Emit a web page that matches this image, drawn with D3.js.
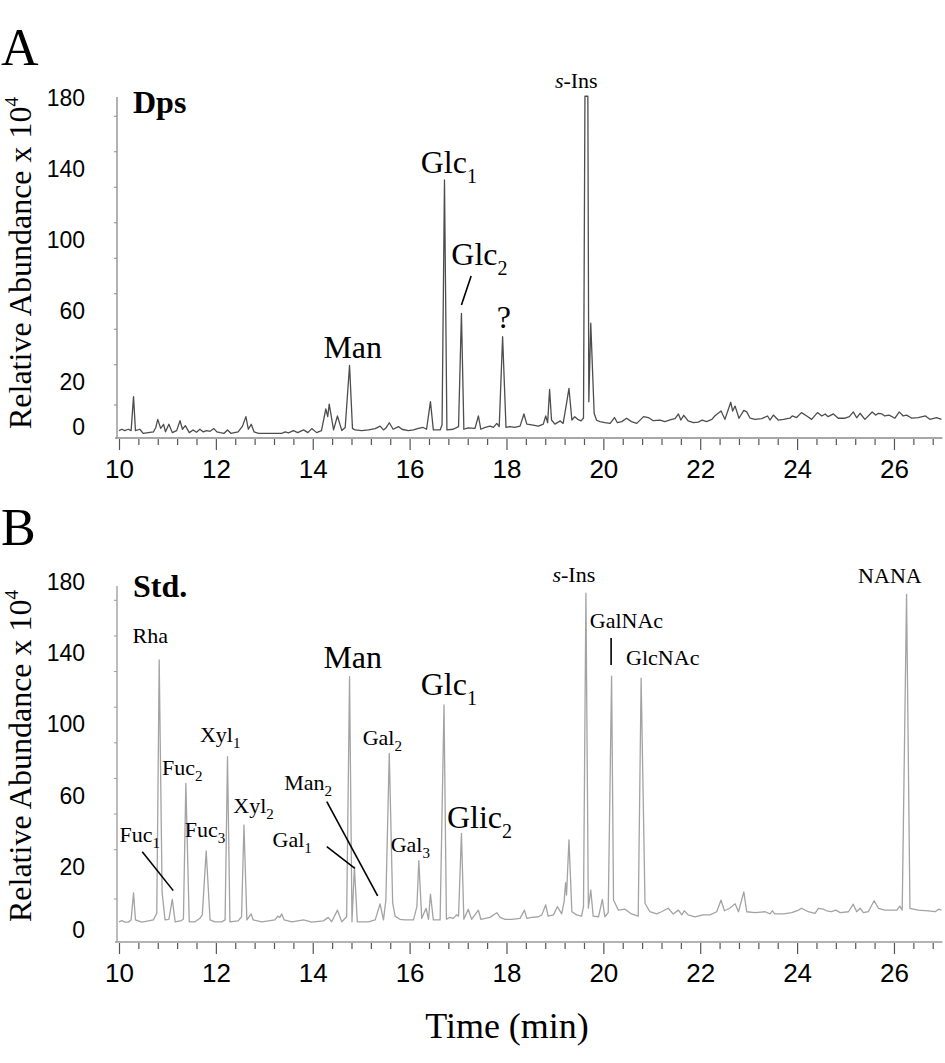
<!DOCTYPE html>
<html>
<head>
<meta charset="utf-8">
<script src="https://cdn.jsdelivr.net/npm/d3@7"></script>
<style>
  html, body { margin: 0; padding: 0; background: #fff; }
  svg { display: block; }
</style>
</head>
<body>
<div id="chart"></div>
<script>
// ---------------- DATA ----------------
const timeDomain = [10, 27];
const xMajorTicks = [10, 12, 14, 16, 18, 20, 22, 24, 26];
const xMinorTicks = [10.4, 10.8, 11.2, 11.6, 12.4, 12.8, 13.2, 13.6, 14.4, 14.8, 15.2, 15.6,
  16.4, 16.8, 17.2, 17.6, 18.4, 18.8, 19.2, 19.6, 20.4, 20.8, 21.2, 21.6, 22.4, 22.8, 23.2, 23.6,
  24.4, 24.8, 25.2, 25.6, 26.4, 26.8];
const yTickLabels = [0, 20, 60, 100, 140, 180];
const yMinorTicks = [10, 30, 50, 70, 90, 110, 130, 150, 170];

// Panel A (Dps) chromatogram: [time (min), relative abundance x 10^4]
const dpsTrace = [
[10.00,-1.6],[10.06,-1.0],[10.12,-1.6],[10.19,-1.0],[10.25,-1.6],[10.30,13.5],[10.34,-1.6],[10.43,-1.0],[10.50,-2.8],[10.71,-2.2],[10.76,-0.2],[10.80,3.4],[10.86,-0.6],[10.92,1.2],[10.96,-2.1],[11.03,1.2],[11.10,-2.5],[11.19,-1.6],[11.26,2.8],[11.31,-1.0],[11.37,0.6],[11.45,-2.5],[11.53,-1.3],[11.60,-2.3],[11.67,-1.0],[11.74,-2.2],[11.81,-1.6],[11.88,-1.9],[11.96,-0.7],[12.02,-2.2],[12.09,-2.5],[12.17,-2.8],[12.24,-1.3],[12.31,-2.8],[12.46,-2.2],[12.55,0.4],[12.62,4.6],[12.67,-1.0],[12.73,1.2],[12.79,-2.2],[12.88,-2.8],[13.36,-2.8],[13.43,-2.2],[13.50,-2.6],[13.60,-1.6],[13.69,-2.5],[13.81,-1.3],[13.90,-2.5],[13.98,-0.7],[14.08,-2.5],[14.18,-1.6],[14.27,8.0],[14.31,4.6],[14.34,10.2],[14.43,-1.3],[14.51,4.9],[14.60,-1.6],[14.67,-0.2],[14.76,29.4],[14.82,-0.6],[14.87,-1.3],[15.01,-1.6],[15.15,-1.3],[15.29,-0.7],[15.39,0.4],[15.46,-1.3],[15.52,-0.2],[15.58,1.9],[15.66,-1.0],
[15.77,0.2],[15.84,-1.0],[15.97,-1.6],[16.08,-1.3],[16.18,-0.6],[16.28,-0.2],[16.35,-1.0],[16.43,11.3],[16.49,-1.3],[16.63,-1.3],[16.67,1.0],[16.72,133.8],[16.77,-1.3],[16.90,-1.0],[17.01,0.2],[17.07,58.7],[17.12,-1.0],[17.21,-0.4],[17.35,-0.6],[17.42,4.9],[17.47,-1.0],[17.56,-0.2],[17.66,0.4],[17.73,-0.2],[17.80,1.6],[17.85,0.2],[17.92,45.5],[17.99,-0.2],[18.07,0.2],[18.17,-0.2],[18.28,0.4],[18.36,5.8],[18.42,1.3],[18.52,0.9],[18.66,0.4],[18.76,1.3],[18.81,4.9],[18.85,1.9],[18.89,16.7],[18.93,3.1],[19.00,1.3],[19.11,2.7],[19.17,1.6],[19.24,10.5],[19.29,17.2],[19.35,3.1],[19.41,4.6],[19.47,3.4],[19.54,2.7],[19.59,4.0],[19.62,181],[19.68,181],[19.70,11.2],[19.74,53.1],[19.81,6.1],[19.86,3.0],[19.93,2.4],[20.03,1.9],[20.14,1.6],[20.23,4.2],[20.29,1.9],[20.38,2.4],[20.48,3.9],[20.58,2.4],[20.69,1.6],[20.83,4.6],[20.93,4.2],[21.03,2.8],[21.17,3.1],[21.27,2.4],
[21.41,3.4],[21.48,3.7],[21.55,5.8],[21.60,3.1],[21.66,5.2],[21.75,2.7],[21.86,1.9],[21.96,2.2],[22.04,3.1],[22.13,2.4],[22.24,3.4],[22.30,4.9],[22.43,7.1],[22.51,3.4],[22.63,11.0],[22.67,7.1],[22.72,9.3],[22.80,3.9],[22.90,7.4],[22.96,6.7],[23.03,3.9],[23.13,3.4],[23.27,3.7],[23.39,4.9],[23.44,3.1],[23.51,5.3],[23.61,3.1],[23.72,3.4],[23.85,3.9],[23.90,4.9],[23.99,4.2],[24.09,6.4],[24.20,4.9],[24.30,3.4],[24.42,6.4],[24.51,4.9],[24.58,5.8],[24.64,4.6],[24.75,5.8],[24.85,3.9],[24.99,3.9],[25.08,4.6],[25.16,6.7],[25.23,4.1],[25.30,6.1],[25.40,3.4],[25.55,6.7],[25.62,5.3],[25.68,6.1],[25.75,5.8],[25.81,4.9],[25.90,5.3],[26.02,3.9],[26.11,6.7],[26.19,4.9],[26.26,5.3],[26.37,3.9],[26.50,4.2],[26.65,4.9],[26.74,3.4],[26.88,4.2],[26.98,3.4]
];

// Panel B (Std.) chromatogram
const stdTrace = [
[10.00,2.6],[10.06,3.0],[10.12,2.5],[10.19,2.5],[10.25,3.2],[10.30,11.8],[10.34,3.2],[10.47,2.5],[10.61,2.9],[10.71,3.2],[10.78,5.3],[10.83,136.2],[10.89,12.0],[10.95,3.2],[11.03,3.4],[11.10,9.7],[11.16,2.6],[11.29,3.0],[11.33,3.5],[11.38,67.0],[11.45,2.6],[11.57,2.6],[11.67,3.7],[11.72,4.8],[11.80,29.0],[11.88,3.2],[11.98,2.6],[12.12,2.6],[12.19,3.2],[12.24,81.9],[12.29,2.6],[12.46,2.9],[12.53,4.2],[12.58,43.6],[12.64,3.2],[12.73,5.1],[12.77,3.2],[12.95,2.6],[13.22,3.2],[13.28,4.4],[13.32,4.0],[13.36,5.1],[13.41,3.2],[13.57,2.6],[13.81,3.2],[13.98,2.5],[14.22,2.9],[14.32,4.0],[14.39,2.6],[14.51,6.3],[14.60,2.6],[14.70,4.2],[14.76,126.9],[14.81,2.6],[14.86,20.0],[14.92,2.6],[15.15,2.6],[15.29,3.2],[15.39,8.3],[15.46,3.2],[15.51,9.5],[15.58,83.8],[15.65,8.6],[15.70,4.4],[15.80,3.4],[15.90,3.2],[16.08,3.2],[16.15,7.4],[16.19,23.5],[16.25,3.7],[16.34,6.9],[16.39,3.4],[16.43,11.4],[16.49,3.2],[16.63,3.2],[16.71,111.0],[16.76,3.4],[16.83,4.0],[16.90,3.7],[16.97,4.8],[17.01,4.4],[17.07,38.9],[17.12,3.4],[17.21,6.6],[17.28,3.4],[17.42,6.3],[17.47,3.4],[17.56,3.7],[17.66,4.0],[17.80,5.5],[17.87,4.0],[17.97,3.4],[18.11,3.4],[18.28,3.7],[18.37,6.3],[18.42,3.7],[18.52,4.0],[18.66,4.2],[18.73,4.8],[18.81,8.0],[18.86,4.4],[18.97,4.8],[19.05,7.4],[19.14,5.1],[19.19,9.0],[19.22,15.0],[19.24,11.1],[19.29,35.2],[19.35,5.8],[19.45,4.8],[19.55,4.4],[19.59,7.4],[19.64,173.7],[19.69,6.9],[19.74,12.7],[19.79,4.4],[19.90,4.2],[19.98,9.7],[20.03,4.2],[20.10,5.5],[20.17,127.2],[20.21,9.5],[20.31,6.3],[20.45,6.6],[20.58,5.1],[20.72,4.4],[20.78,126.0],[20.86,8.5],[20.96,5.8],[21.10,5.1],[21.20,5.8],[21.34,6.9],[21.44,5.1],[21.55,6.3],[21.62,4.8],[21.67,6.1],[21.75,4.8],[21.89,4.2],[22.06,4.8],[22.20,4.8],[22.34,5.8],[22.43,9.5],[22.50,6.1],[22.61,6.9],[22.72,8.3],[22.79,5.8],[22.90,12.1],[22.96,5.8],[23.13,5.5],[23.34,5.8],[23.44,5.1],[23.49,6.1],[23.54,5.1],[23.72,5.1],[23.89,5.5],[24.03,6.3],[24.09,6.9],[24.23,5.8],[24.37,5.3],[24.44,6.9],[24.54,6.6],[24.61,6.1],[24.71,5.8],[24.80,6.3],[24.89,5.5],[25.06,5.8],[25.16,8.2],[25.23,5.8],[25.30,6.9],[25.37,5.5],[25.47,5.8],[25.59,9.3],[25.68,6.9],[25.81,6.3],[25.95,6.3],[26.06,6.3],[26.12,7.6],[26.17,6.3],[26.26,173.1],[26.33,6.9],[26.50,6.3],[26.71,6.1],[26.85,5.8],[26.92,6.6],[26.98,6.3]
];

// Peak labels: [text, subscript, time, abundance, size class, italic prefix]
const dpsLabels = [
  ["Man", "", 14.22, 33.5, "big"],
  ["Glc", "1", 16.23, 137.7, "big"],
  ["Glc", "2", 16.86, 85.9, "big"],
  ["?", "", 17.80, 50.4, "big"],
  ["-Ins", "", 19.00, 185.6, "small", "s"]
];
const dpsLeaders = [[17.27, 79.7, 17.07, 63.4]];

const stdLabels = [
  ["Rha", "", 10.28, 145.8, "small"],
  ["Fuc", "1", 10.01, 34.2, "small"],
  ["Fuc", "2", 10.89, 71.7, "small"],
  ["Xyl", "1", 11.67, 90.4, "small"],
  ["Fuc", "3", 11.36, 37.0, "small"],
  ["Xyl", "2", 12.36, 50.2, "small"],
  ["Man", "2", 13.41, 63.2, "small"],
  ["Gal", "1", 13.17, 31.4, "small"],
  ["Man", "", 14.22, 131.6, "big"],
  ["Gal", "2", 15.03, 88.5, "small"],
  ["Gal", "3", 15.61, 28.6, "small"],
  ["Glc", "1", 16.23, 116.6, "big"],
  ["Glic", "2", 16.77, 41.7, "big"],
  ["-Ins", "", 18.95, 180.2, "small", "s"],
  ["GalNAc", "", 19.72, 154.0, "small"],
  ["GlcNAc", "", 20.47, 133.4, "small"],
  ["NANA", "", 25.26, 179.3, "small"]
];
const stdLeaders = [
  [10.48, 28.6, 11.12, 12.5],
  [14.29, 31.4, 14.87, 19.6],
  [14.29, 56.7, 15.34, 10.8],
  [20.16, 148.6, 20.16, 133.4]
];

// ---------------- DRAWING ----------------
const W = 945, H = 1063;
const serif = "'Liberation Serif', 'Times New Roman', Times, serif";
const sans = "'Liberation Sans', Arial, Helvetica, sans-serif";

const svg = d3.select("#chart").append("svg")
  .attr("width", W).attr("height", H)
  .style("background", "#fff");

const xLeft = 119, xRight = 942.4, yAxisX = 117;
const x = d3.scaleLinear().domain(timeDomain).range([xLeft, xRight]);

const panels = [
  { letter: "A", letterY: 65, name: "Dps", nameY: 113, trace: dpsTrace, labels: dpsLabels, leaders: dpsLeaders,
    y: d3.scaleLinear().domain([0, 20, 180]).range([427, 382, 98]),
    axisY: 438, axisTop: 97, color: "#4d4d4d", axisColor: "#8a8a8a", titleY: 263 },
  { letter: "B", letterY: 545, name: "Std.", nameY: 597, trace: stdTrace, labels: stdLabels, leaders: stdLeaders,
    y: d3.scaleLinear().domain([0, 20, 180]).range([930, 867, 582]),
    axisY: 942, axisTop: 586, color: "#a3a3a3", axisColor: "#9a9a9a", titleY: 756 }
];

panels.forEach(p => {
  const g = svg.append("g");
  const y = p.y;

  // panel letter
  g.append("text").attr("x", 1).attr("y", p.letterY)
    .attr("font-family", serif).attr("font-size", 52).attr("fill", "#000").text(p.letter);

  // y-axis title
  const t = g.append("text")
    .attr("transform", `translate(31,${p.titleY}) rotate(-90)`)
    .attr("text-anchor", "middle")
    .attr("font-family", serif).attr("font-size", 32).attr("fill", "#000");
  t.append("tspan").text("Relative Abundance x 10");
  t.append("tspan").attr("font-size", 19).attr("dy", -13).text("4");

  // axis lines
  g.append("line").attr("x1", yAxisX).attr("x2", yAxisX)
    .attr("y1", p.axisTop).attr("y2", p.axisY)
    .attr("stroke", p.axisColor).attr("stroke-width", 1.3);
  g.append("line").attr("x1", yAxisX - 2).attr("x2", xRight)
    .attr("y1", p.axisY).attr("y2", p.axisY)
    .attr("stroke", p.axisColor).attr("stroke-width", 1.6);

  // y minor ticks
  const yMinor = g.append("g").attr("transform", `translate(${yAxisX},0)`)
    .call(d3.axisLeft(y).tickValues(yMinorTicks).tickSize(3).tickFormat(""));
  yMinor.select(".domain").remove();
  yMinor.selectAll(".tick line").attr("stroke", p.axisColor);

  // y tick labels
  const yLab = g.append("g").attr("transform", `translate(${yAxisX},0)`)
    .call(d3.axisLeft(y).tickValues(yTickLabels).tickSize(0).tickPadding(32).tickFormat(d3.format("d")));
  yLab.select(".domain").remove();
  yLab.selectAll("text").attr("font-family", sans).attr("font-size", 23).attr("fill", "#000");

  // x minor ticks
  const xMin = g.append("g").attr("transform", `translate(0,${p.axisY + 1})`)
    .call(d3.axisBottom(x).tickValues(xMinorTicks).tickSize(6).tickFormat(""));
  xMin.select(".domain").remove();
  xMin.selectAll(".tick line").attr("stroke", "#555").attr("stroke-width", 1.2);

  // x major ticks + labels
  const xMaj = g.append("g").attr("transform", `translate(0,${p.axisY + 1})`)
    .call(d3.axisBottom(x).tickValues(xMajorTicks).tickSize(11).tickPadding(10).tickFormat(d3.format("d")));
  xMaj.select(".domain").remove();
  xMaj.selectAll(".tick line").attr("stroke", "#555").attr("stroke-width", 1.2);
  xMaj.selectAll("text").attr("font-family", sans).attr("font-size", 26).attr("fill", "#000");

  // trace
  const line = d3.line().x(d => x(d[0])).y(d => y(d[1]));
  g.append("path").datum(p.trace)
    .attr("d", line)
    .attr("fill", "none")
    .attr("stroke", p.color)
    .attr("stroke-width", 1.3)
    .attr("stroke-linejoin", "round");

  // panel name
  g.append("text").attr("x", 133).attr("y", p.nameY)
    .attr("font-family", serif).attr("font-weight", "bold").attr("font-size", 32)
    .attr("fill", "#000").text(p.name);

  // peak labels
  p.labels.forEach(l => {
    const big = l[4] === "big";
    const fs = big ? 32 : 22;
    const tx = g.append("text")
      .attr("x", x(l[2])).attr("y", y(l[3]))
      .attr("font-family", serif).attr("font-size", fs).attr("fill", "#000");
    if (l[5]) tx.append("tspan").attr("font-style", "italic").text(l[5]);
    tx.append("tspan").text(l[0]);
    if (l[1]) {
      tx.append("tspan").attr("font-size", big ? 20 : 15).attr("dy", big ? 10 : 6).text(l[1]);
    }
  });

  // leader lines
  p.leaders.forEach(s => {
    g.append("line")
      .attr("x1", x(s[0])).attr("y1", y(s[1]))
      .attr("x2", x(s[2])).attr("y2", y(s[3]))
      .attr("stroke", "#000").attr("stroke-width", 1.6);
  });
});

// x-axis title
svg.append("text").attr("x", 507).attr("y", 1038)
  .attr("text-anchor", "middle")
  .attr("font-family", serif).attr("font-size", 36).attr("fill", "#000")
  .text("Time (min)");
</script>
</body>
</html>
